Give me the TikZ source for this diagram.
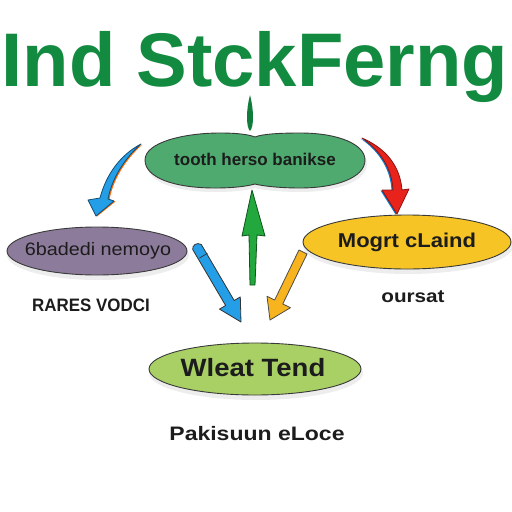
\documentclass[tikz,border=0pt]{standalone}
\usepackage{fontspec}
\setmainfont{Liberation Sans}
\usetikzlibrary{shapes.geometric}
\definecolor{titlegreen}{HTML}{128A3F}
\definecolor{topgreen}{HTML}{4EAA6E}
\definecolor{purplefill}{HTML}{8C7B9A}
\definecolor{yellowfill}{HTML}{F6C425}
\definecolor{lightgreen}{HTML}{A8D064}
\definecolor{arrowblue}{HTML}{249EE6}
\definecolor{arrowred}{HTML}{E8231C}
\definecolor{arrowgreen}{HTML}{22A83C}
\definecolor{arroworange}{HTML}{F7B41E}
\definecolor{inkdark}{HTML}{1C1C1C}
\definecolor{edgegray}{HTML}{3A3A3A}
\tikzset{
  bubble/.style={draw=edgegray, line width=0.9pt},
  shade/.style={fill=black, opacity=0.07},
  fatarrow/.style={draw=edgegray, line width=0.8pt, line join=round},
  caption/.style={anchor=base, text=inkdark, font=\bfseries},
  label/.style={text=inkdark, inner sep=0pt}
}
\begin{document}
\begin{tikzpicture}[x=1pt,y=-1pt]
\useasboundingbox (0,0) rectangle (512,512);
\fill[white] (0,0) rectangle (512,512);

% title
\node[anchor=base, text=titlegreen, font=\bfseries\fontsize{76}{76}\selectfont, inner sep=0pt] (title) at (255,86) {Ind StckFerng};

% leaf
\fill[titlegreen!90!black] (250,95) .. controls (246,110) and (246,127) .. (250,131) .. controls (254,127) and (254,110) .. (250,95);

% top cloud
\fill[shade] (147,164) .. controls (147,146) and (185,137) .. (220,137) .. controls (240,137) and (250,139) .. (255,141) .. controls (262,138) and (280,137) .. (300,137) .. controls (340,137) and (367,149) .. (367,164) .. controls (367,182) and (335,192) .. (300,192) .. controls (280,192) and (262,190) .. (255,188) .. controls (248,190) and (235,192) .. (215,192) .. controls (175,192) and (147,182) .. (147,164) -- cycle;
\filldraw[fill=topgreen, draw=edgegray, line width=0.9pt] (145,160) .. controls (145,142) and (185,133) .. (220,133) .. controls (240,133) and (250,135) .. (255,137) .. controls (262,134) and (280,133) .. (300,133) .. controls (340,133) and (365,145) .. (365,160) .. controls (365,178) and (335,188) .. (300,188) .. controls (280,188) and (262,186) .. (255,184) .. controls (248,186) and (235,188) .. (215,188) .. controls (175,188) and (145,178) .. (145,160) -- cycle;
\node[label, font=\bfseries\fontsize{17}{17}\selectfont] (top) at (255,159) {tooth herso banikse};

% purple ellipse
\fill[shade] (98,255) ellipse [x radius=91pt, y radius=25pt];
\filldraw[bubble, fill=purplefill] (97,251) ellipse [x radius=90pt, y radius=24pt];
\node[label, font=\fontsize{18}{18}\selectfont] (left) at (98,251) {\scalebox{1.1}[1]{6badedi nemoyo}};
\node[caption, font=\bfseries\fontsize{18}{18}\selectfont] (leftcap) at (91,311) {\scalebox{0.94}[1]{RARES VODCI}};

% yellow ellipse
\fill[shade] (408,246) ellipse [x radius=105pt, y radius=28pt];
\filldraw[bubble, fill=yellowfill] (407,242) ellipse [x radius=104pt, y radius=27pt];
\node[label, font=\bfseries\fontsize{20}{20}\selectfont] (right) at (407,242) {\scalebox{1.1}[1]{Mogrt cLaind}};
\node[caption, font=\bfseries\fontsize{18}{18}\selectfont] (rightcap) at (413,302) {\scalebox{1.15}[1]{oursat}};

% light green ellipse
\fill[shade] (256,373) ellipse [x radius=107pt, y radius=27pt];
\filldraw[bubble, fill=lightgreen] (255,369) ellipse [x radius=106pt, y radius=26pt];
\node[label, font=\bfseries\fontsize{25}{25}\selectfont] (bottom) at (253,368) {\scalebox{1.1}[1]{Wleat Tend}};
\node[caption, font=\bfseries\fontsize{19.5}{19.5}\selectfont] (bottomcap) at (257,440) {\scalebox{1.18}[1]{Pakisuun eLoce}};

% arrow 1: blue curved (top-left)
\fill[orange!80!red] (142.5,144.5) .. controls (126.5,158.5) and (113.5,178.5) .. (109.5,199.5) -- (115.5,201.5) -- (97,216.5) -- (89,200.5) -- (100.5,198.5) .. controls (106.5,175.5) and (120.5,155.5) .. (142.5,144.5) -- cycle;
\filldraw[fatarrow, fill=arrowblue, draw=arrowblue!50!black] (141,144) .. controls (125,158) and (112,178) .. (108,199) -- (114,201) -- (96,216) -- (88,200) -- (100,198) .. controls (106,175) and (120,155) .. (141,144) -- cycle;

% arrow 2: red curved (top-right)
\fill[cyan!60!blue] (360.5,138.5) .. controls (383.5,148.5) and (398.5,165.5) .. (400.5,190.5) -- (407.5,189.5) -- (395.5,214.5) -- (380.5,190.5) -- (391.5,190.5) .. controls (390.5,170.5) and (380.5,152.5) .. (360.5,138.5) -- cycle;
\filldraw[fatarrow, fill=arrowred, draw=arrowred!60!black] (362,138) .. controls (385,148) and (400,165) .. (402,190) -- (409,189) -- (397,214) -- (382,190) -- (393,190) .. controls (392,170) and (382,152) .. (362,138) -- cycle;

% arrow 3: green upward
\filldraw[fatarrow, fill=arrowgreen, draw=arrowgreen!50!black] (252,190) -- (265,236) -- (257,235) -- (255,285) -- (250,285) -- (249,235) -- (242,236) -- cycle;

% arrow 4: blue straight (down-right)
\filldraw[fatarrow, fill=arrowblue, draw=black!80] (201.3,244.5) -- (234.2,300.5) -- (240.3,296.9) -- (241,322) -- (219.5,309.1) -- (225.6,305.5) -- (192.7,249.5) .. controls (192,245) and (197,242) .. (201.3,244.5) -- cycle;
\draw[black!80, line width=0.7pt] (199.5,258) -- (207.5,253.3);

% arrow 5: orange straight (down-left)
\filldraw[fatarrow, fill=arroworange, draw=black!70] (307.05,253.97) -- (282.75,303.97) -- (290.4,307.7) -- (270,320) -- (267,296.3) -- (274.65,300.03) -- (298.95,250.03) -- cycle;
\end{tikzpicture}
\end{document}
